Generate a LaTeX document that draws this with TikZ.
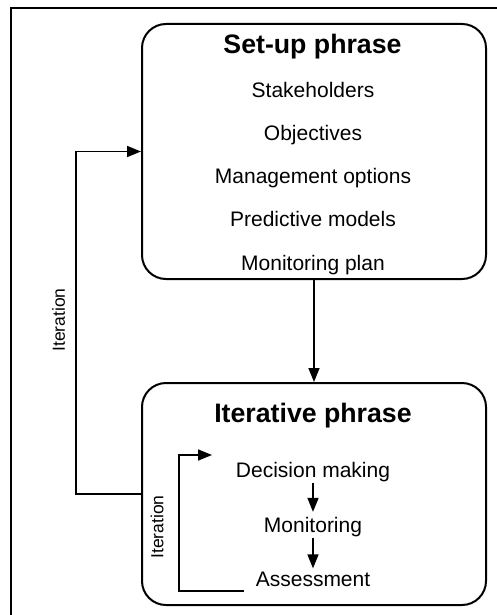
\documentclass[tikz,border=0pt]{standalone}
\usepackage{fontspec}
\setmainfont{Liberation Sans}
\usetikzlibrary{arrows.meta}

\tikzset{
    phasebox/.style={draw, line width=2pt, rounded corners=24pt,
        minimum width=344pt, minimum height=#1, inner sep=0pt},
    phasetitle/.style={anchor=base, inner sep=0pt, font=\bfseries\fontsize{26.7}{31}\selectfont},
    item/.style={anchor=base, inner sep=0pt, font=\fontsize{21}{25}\selectfont},
    looplabel/.style={rotate=90, inner sep=0pt, font=\fontsize{17.5}{20}\selectfont},
    arr/.style={line width=1.6pt, -{Triangle[length=14pt,width=11pt]}}
}

\begin{document}
\begin{tikzpicture}[x=1pt, y=-1pt]
        \useasboundingbox (0,0) rectangle (496,615);

        % Draw the frame
        \draw[line width=2pt] (11,616) -- (11,8) -- (497,8);

        % Draw the two phases
        \node[phasebox=255pt] (setup) at (314,151.5) {};
        \node[phasebox=222pt] (iter) at (314,494) {};

        % Label the set-up phase
        \node[phasetitle] (setuptitle) at (312.5,53.5) {Set-up phrase};
        \foreach \name/\txt/\y in {stake/Stakeholders/97.3, obj/Objectives/140.5,
                mgmt/Management options/183.7, pred/Predictive models/226.9,
                plan/Monitoring plan/270.1} {
                \node[item] (\name) at (313,\y) {\txt};
            }

        % Label the iterative phase
        \node[phasetitle] (itertitle) at (313,422.7) {Iterative phrase};
        \node[item] (dec) at (313,477.3) {Decision making};
        \node[item] (mon) at (313,532.3) {Monitoring};
        \node[item] (assess) at (313,586) {Assessment};

        % Draw arrows between the steps
        \draw[arr] (setup) -- (iter);
        \draw[arr, shorten <=1pt, shorten >=5pt] (dec) -- (mon);
        \draw[arr, shorten <=1pt, shorten >=3pt] (mon) -- (assess);

        % Draw the iteration loops
        \coordinate (innerstart) at (244,591);
        \coordinate (innerend) at (212,455);
        \draw[arr] (innerstart) -- ++(-65,0) |- (innerend);
        \draw[arr] (iter.west) -- ++(-65,0) |- (setup.west);
        \node[looplabel] (outeriter) at (58.5,320) {Iteration};
        \node[looplabel] (inneriter) at (157,527) {Iteration};
    \end{tikzpicture}
\end{document}
